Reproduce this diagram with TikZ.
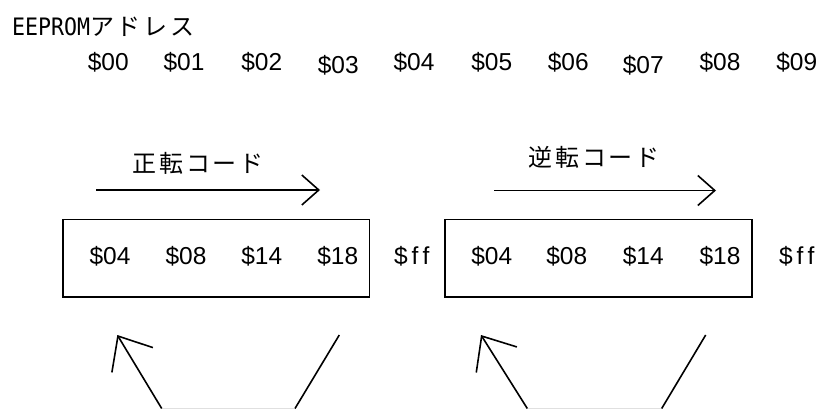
\documentclass[tikz,border=0pt]{standalone}
\usepackage{fontspec}
\setmainfont{Liberation Sans}
\newfontfamily\jpfont[LetterSpace=11]{Noto Sans CJK JP}
\newfontfamily\eepfont{DejaVu Sans Mono}
\usetikzlibrary{arrows.meta}
\tikzset{
  lbl/.style={inner sep=0pt, font=\fontsize{24.5}{28}\selectfont},
  jplbl/.style={inner sep=0pt, font=\fontsize{24}{28}\selectfont\jpfont},
  membox/.style={draw, line width=1.6pt, inner sep=0pt, minimum height=77.5pt},
  codearrow/.style={line width=1.6pt, -{Straight Barb[length=17pt,width=30pt,line width=1.6pt]}},
  looparrow/.style={line width=1.6pt, -{Straight Barb[length=28pt,width=48pt,line width=1.6pt]}},
  loopline/.style={line width=1.6pt},
  faint/.style={line width=1pt, draw=black!12}
}
\begin{document}
\begin{tikzpicture}[x=1pt,y=-1pt]
\useasboundingbox (0,0) rectangle (820,409);
% header
\node[inner sep=0pt, anchor=west, font=\fontsize{24}{28}\selectfont] (hdr) at (12,27)
  {{\eepfont\scalebox{0.9}[1]{EEPROM}}{\jpfont アドレス}};
% address row
\node[lbl] (ad0) at (108.3,62) {\$00};
\node[lbl] (ad1) at (184,62) {\$01};
\node[lbl] (ad2) at (261.7,62) {\$02};
\node[lbl] (ad3) at (338.3,65) {\$03};
\node[lbl] (ad4) at (414,62) {\$04};
\node[lbl] (ad5) at (491.7,62) {\$05};
\node[lbl] (ad6) at (568.3,62) {\$06};
\node[lbl] (ad7) at (643.3,65) {\$07};
\node[lbl] (ad8) at (720,62) {\$08};
\node[lbl] (ad9) at (796.7,62) {\$09};
% code labels
\node[jplbl] (fwd) at (198,163) {正転コード};
\node[jplbl] (rev) at (594,157) {逆転コード};
% code arrows
\coordinate (a1s) at (96,190);
\coordinate (a1e) at (320,190);
\coordinate (a2s) at (494.3,190.5);
\coordinate (a2e) at (716,190.5);
\draw[codearrow] (a1s) -- (a1e);
\draw[codearrow] (a2s) -- (a2e);
% boxes
\node[membox, minimum width=306.3pt] (box1) at (216.2,258.2) {};
\node[membox, minimum width=306.7pt] (box2) at (598.4,258.2) {};
% box contents
\node[lbl] (c1a) at (110,256.7) {\$04};
\node[lbl] (c1b) at (186,256.7) {\$08};
\node[lbl] (c1c) at (261.7,256.7) {\$14};
\node[lbl] (c1d) at (337.7,256.7) {\$18};
\node[lbl] (ff1) at (411.7,256.7) {\$\kern4pt f\kern4pt f};
\node[lbl] (c2a) at (491.7,256.7) {\$04};
\node[lbl] (c2b) at (566.7,256.7) {\$08};
\node[lbl] (c2c) at (643.3,256.7) {\$14};
\node[lbl] (c2d) at (720,256.7) {\$18};
\node[lbl] (ff2) at (796.7,256.7) {\$\kern4pt f\kern4pt f};
% loop lines
\coordinate (b1s) at (161.7,408.5);
\coordinate (b1t) at (117.3,335);
\coordinate (b1r) at (295,408.5);
\coordinate (b1q) at (339.3,335);
\coordinate (b2s) at (527.3,408.5);
\coordinate (b2t) at (481,335);
\coordinate (b2r) at (661.7,408.5);
\coordinate (b2q) at (705.7,335);
\draw[faint] (b1s) -- (b1r);
\draw[faint] (b2s) -- (b2r);
\draw[looparrow] (b1s) -- (b1t);
\draw[loopline] (b1r) -- (b1q);
\draw[looparrow] (b2s) -- (b2t);
\draw[loopline] (b2r) -- (b2q);
\end{tikzpicture}
\end{document}
